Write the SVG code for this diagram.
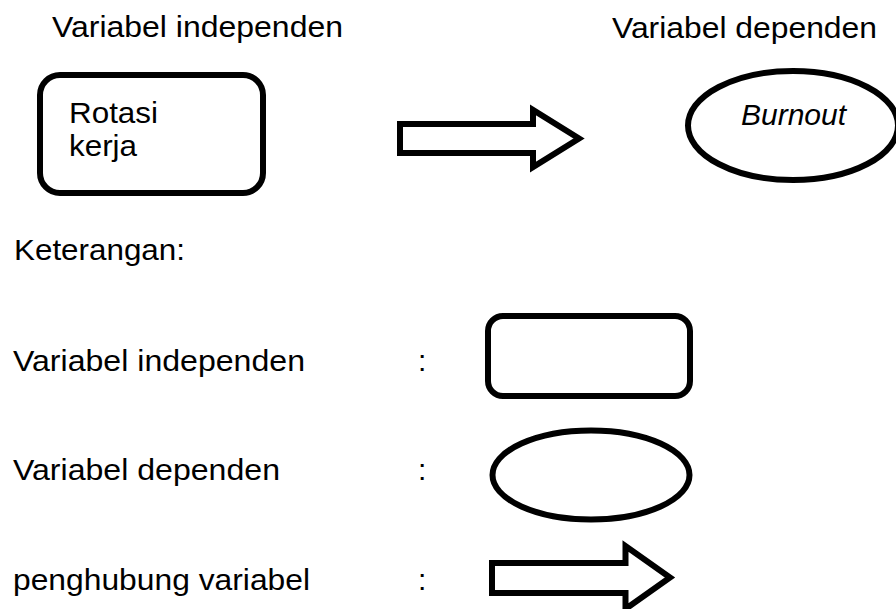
<svg xmlns="http://www.w3.org/2000/svg" width="896" height="609" viewBox="0 0 896 609">
<style>
text{font-family:"Liberation Sans",Arial,sans-serif;font-size:30px;fill:#000}
.it{font-style:italic}
.shape{fill:#fff;stroke:#000;stroke-width:6;stroke-linejoin:miter}
</style>
<rect width="896" height="609" fill="#fff"/>
<g id="label-independen-top"><text x="52" y="37" textLength="291" lengthAdjust="spacingAndGlyphs">Variabel independen</text></g>
<g id="label-dependen-top"><text x="612" y="38" textLength="265" lengthAdjust="spacingAndGlyphs">Variabel dependen</text></g>
<g id="node-rotasi">
<rect class="shape" x="40" y="75" width="223" height="118" rx="20"/>
<text x="69" y="123" textLength="89" lengthAdjust="spacingAndGlyphs">Rotasi</text>
<text x="69" y="156" textLength="68" lengthAdjust="spacingAndGlyphs">kerja</text>
</g>
<g id="node-burnout">
<ellipse class="shape" cx="793" cy="125.5" rx="105" ry="54.5"/>
<text class="it" x="741" y="125">Burnout</text>
</g>
<g id="connectors">
<polygon class="shape" points="400,124 533,124 533,110 579,138.5 533,167 533,153 400,153"/>
</g>
<g id="legend-title"><text x="14" y="260" textLength="171" lengthAdjust="spacingAndGlyphs">Keterangan:</text></g>
<g id="legend-independen">
<text x="13" y="371" textLength="292" lengthAdjust="spacingAndGlyphs">Variabel independen</text>
<text x="418" y="371">:</text>
<rect class="shape" x="488" y="316" width="202" height="80" rx="15"/>
</g>
<g id="legend-dependen">
<text x="13" y="480" textLength="267" lengthAdjust="spacingAndGlyphs">Variabel dependen</text>
<text x="418" y="480">:</text>
<ellipse class="shape" cx="591" cy="475" rx="98.5" ry="44.5"/>
</g>
<g id="legend-penghubung">
<text x="13" y="590" textLength="297" lengthAdjust="spacingAndGlyphs">penghubung variabel</text>
<text x="418" y="590">:</text>
<polygon class="shape" points="492,563 625.5,563 625.5,546 670,577.5 625.5,609 625.5,593 492,593"/>
</g>
</svg>
